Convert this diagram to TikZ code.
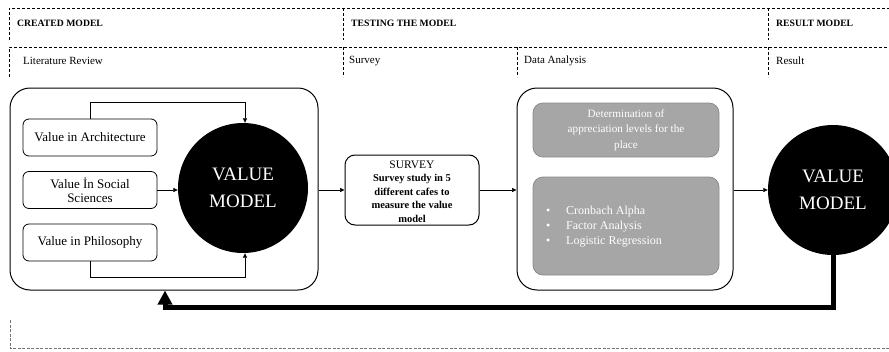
\documentclass[tikz,border=0pt]{standalone}
\usepackage{fontspec}
\setmainfont{Liberation Serif}
\usetikzlibrary{arrows.meta,calc}

\tikzset{
  frameline/.style={dash pattern=on 3pt off 2pt, line width=0.8pt, draw=black},
  faintline/.style={dash pattern=on 3pt off 1.5pt, line width=0.8pt, draw=black!55},
  hdr/.style={anchor=west, inner sep=0pt, font=\fontsize{9.7}{11}\selectfont\bfseries},
  subhdr/.style={anchor=west, inner sep=0pt, font=\fontsize{11}{12}\selectfont},
  bigbox/.style={draw, line width=1pt, rounded corners=20pt, inner sep=0pt},
  srcbox/.style={draw, line width=0.8pt, rounded corners=6pt, minimum width=134pt,
    minimum height=37pt, inner sep=0pt, align=center, font=\fontsize{13}{14}\selectfont},
  valuemodel/.style={circle, fill=black, text=white, minimum size=130pt, inner sep=0pt,
    align=center, font=\fontsize{19}{27.5}\selectfont},
  surveybox/.style={draw, line width=1pt, rounded corners=10pt, minimum width=134pt,
    minimum height=70pt, inner sep=0pt},
  graybox/.style={draw=black!45, fill=black!35, line width=0.8pt, rounded corners=10pt,
    minimum width=186pt, inner sep=0pt, text=white, align=center},
  arr/.style={line width=0.7pt, -{Triangle[length=4.5pt,width=4pt]}},
  backarr/.style={line width=5pt, line join=miter, -{Triangle[length=14pt,width=14pt]}}
}

\begin{document}
\begin{tikzpicture}[x=1pt,y=-1pt]
\clip (0,0) rectangle (889,351);

% phase frames
\draw[frameline] (9,40) -- (9,8) -- (889,8);
\draw[frameline] (343,8) -- (343,40);
\draw[frameline] (768,8) -- (768,40);
\draw[frameline] (9,77) -- (9,47) -- (889,47);
\draw[frameline] (343,47) -- (343,77);
\draw[frameline] (517,47) -- (517,77);
\draw[frameline] (768,47) -- (768,77);
\draw[faintline] (10,320) -- (10,348.5) -- (889,348.5);

\node[hdr] (h1) at (17,23.5) {CREATED MODEL};
\node[hdr] (h2) at (351,23.5) {TESTING THE MODEL};
\node[hdr] (h3) at (776,23.5) {RESULT MODEL};
\node[subhdr] (s1) at (23,61) {Literature Review};
\node[subhdr] (s2) at (349,61) {Survey};
\node[subhdr] (s3) at (524,61) {Data Analysis};
\node[subhdr] (s4) at (776,61) {Result};

% created model
\node[bigbox, minimum width=308pt, minimum height=202pt] (lit) at (164,189) {};
\node[srcbox] (arch) at (90,137.5) {Value in Architecture};
\node[srcbox] (soc) at (90,190) {Value İn Social\\Sciences};
\node[srcbox] (phil) at (90,242.5) {Value in Philosophy};
\node[valuemodel] (vm1) at (243,188) {VALUE\\MODEL};

\coordinate (topbus) at (0,102);
\coordinate (botbus) at (0,277);
\draw[arr] (arch.north) -- (arch.north |- topbus) -| ($(vm1.north)+(2,0)$);
\draw[arr] (soc.east) -- (soc.east -| vm1.west);
\draw[arr] (phil.south) -- (phil.south |- botbus) -| ($(vm1.south)+(2,0)$);

% survey
\node[surveybox] (survey) at (412,190) {};
\node[inner sep=0pt, font=\fontsize{11.5}{14}\selectfont] (svtitle) at (412,165) {SURVEY};
\node[inner sep=0pt, align=center, font=\fontsize{10.5}{13.5}\selectfont\bfseries]
  (svtext) at (412,198.5) {Survey study in 5\\different cafes to\\measure the value\\model};

% data analysis
\node[bigbox, minimum width=216pt, minimum height=202pt] (data) at (625,189) {};
\node[graybox, minimum height=54pt, font=\fontsize{11.2}{15.5}\selectfont] (det) at (626,130)
  {Determination of\\appreciation levels for the\\place};
\node[graybox, minimum height=98pt] (stats) at (626,226) {};
\node[anchor=west, inner sep=0pt, text=white, align=left,
      font=\fontsize{12}{15}\selectfont] (list) at (546,227)
  {\makebox[20pt][l]{\textbullet}Cronbach Alpha\\
   \makebox[20pt][l]{\textbullet}Factor Analysis\\
   \makebox[20pt][l]{\textbullet}Logistic Regression};

% result
\node[valuemodel] (vm2) at (833,190) {VALUE\\MODEL};

\draw[arr] (lit.east |- survey.west) -- (survey.west);
\draw[arr] (survey.east) -- (survey.east -| data.west);
\draw[arr] (data.east |- vm2.west) -- (vm2.west);

% feedback to the created model
\coordinate (ret) at (165,307);
\draw[backarr] (vm2.south) -- (vm2.south |- ret) -- (ret) -- (ret |- lit.south);
\end{tikzpicture}
\end{document}
